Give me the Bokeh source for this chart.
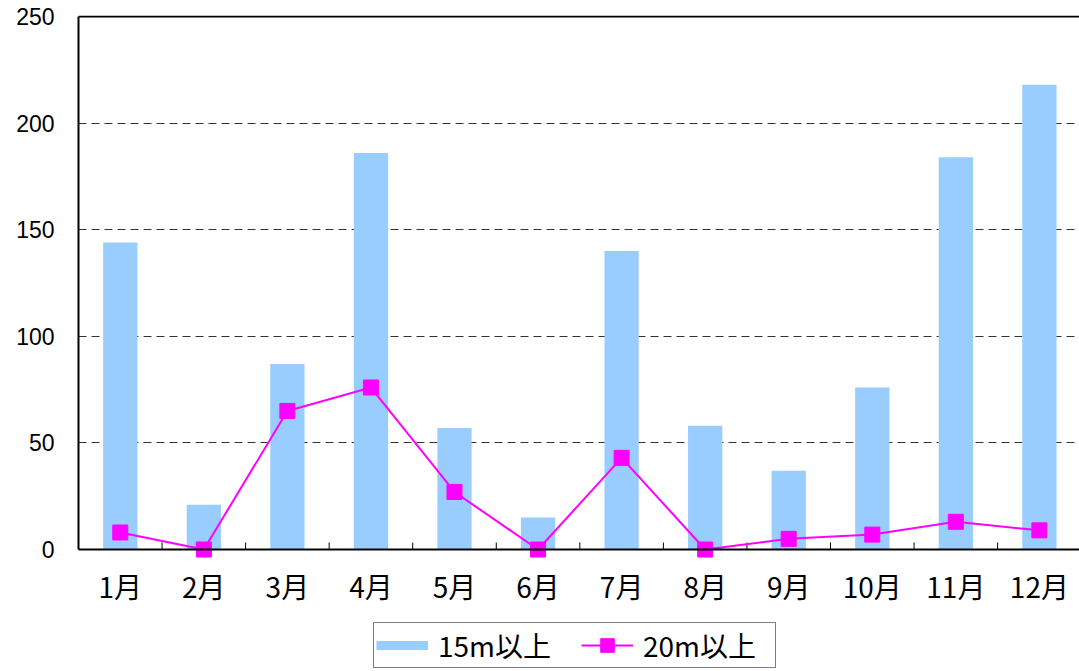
import numpy as np
from bokeh.plotting import figure
from bokeh.models import Range1d, FixedTicker, Span, Legend, LegendItem, ColumnDataSource
from bokeh.core.properties import value
from bokeh.embed import file_html
from bokeh.resources import INLINE

months = ["1月", "2月", "3月", "4月", "5月", "6月", "7月", "8月", "9月", "10月", "11月", "12月"]
over15 = [144, 21, 87, 186, 57, 15, 140, 58, 37, 76, 184, 218]
over20 = [8, 0, 65, 76, 27, 0, 43, 0, 5, 7, 13, 9]
y_ticks = [0, 50, 100, 150, 200, 250]
grid_ticks = [50, 100, 150, 200]

xs = list(range(1, len(months) + 1))
bounds = [i + 0.5 for i in range(0, len(months) + 1)]
src = ColumnDataSource(dict(x=xs, month=months, over15=over15, over20=over20))

PX = 2.132  # pixels per y unit (frame 656 px tall over 307.72 units)

p = figure(frame_width=1001, frame_height=656,
           x_range=Range1d(0.5, 12.48), y_range=Range1d(-57.22, 250.5),
           output_backend="svg", toolbar_location=None,
           min_border_left=78, min_border_right=0, min_border_top=15, min_border_bottom=0,
           background_fill_color="white", border_fill_color="white")
p.outline_line_color = None
p.xaxis.visible = False

# y axis
ya = p.yaxis[0]
ya.ticker = FixedTicker(ticks=y_ticks)
ya.bounds = (0, 250)
ya.major_tick_in = 0
ya.major_tick_out = 0
ya.minor_tick_line_color = None
ya.axis_line_width = 2
ya.axis_line_color = "black"
ya.major_label_text_font = "Liberation Sans"
ya.major_label_text_font_size = "23px"
ya.major_label_text_color = "black"
ya.major_label_standoff = 24

p.xgrid.visible = False
p.ygrid.ticker = FixedTicker(ticks=grid_ticks)
p.ygrid.grid_line_color = "#333333"
p.ygrid.grid_line_dash = "8 5"
p.ygrid.grid_line_width = 1

p.vbar(x="x", top="over15", width=0.41, source=src, fill_color="#99CCFF", line_color=None)

# plot box: top border and category axis at zero with inward ticks between months
p.add_layout(Span(location=250, dimension="width", line_color="black", line_width=2))
p.add_layout(Span(location=0, dimension="width", line_color="black", line_width=2))
p.segment(x0=bounds, y0=0, x1=bounds, y1=7 / PX, line_color="black", line_width=1)
p.text(x="x", y=0, text="month", source=src, text_align="center", text_baseline="top",
       y_offset=16, text_font=value("Noto Sans CJK JP"), text_font_size="28px",
       text_color="black")

ln = p.line(x="x", y="over20", source=src, line_color="#FF00FF", line_width=2)
sc = p.scatter(x="x", y="over20", source=src, marker="square", size=15,
               fill_color="#FF00FF", line_color="#FF00FF")

# legend swatch for the bars (a wide band, no visible data)
dummy = p.line(x=np.array([np.nan]), y=np.array([np.nan]), line_color="#99CCFF",
               line_width=9, line_cap="butt")

legend = Legend(items=[LegendItem(label="15m以上", renderers=[dummy]),
                       LegendItem(label="20m以上", renderers=[ln, sc])],
                orientation="horizontal", location=(295, 3),
                glyph_width=52, glyph_height=34, label_standoff=10, spacing=13,
                label_width=130,
                padding=2, margin=0, border_line_color="black", border_line_width=1,
                label_text_font="Noto Sans CJK JP", label_text_font_size="28px",
                label_text_color="black", background_fill_color="white", background_fill_alpha=1)
p.add_layout(legend, "center")

with open("out.html", "w", encoding="utf-8") as f:
    f.write(file_html(p, INLINE))
